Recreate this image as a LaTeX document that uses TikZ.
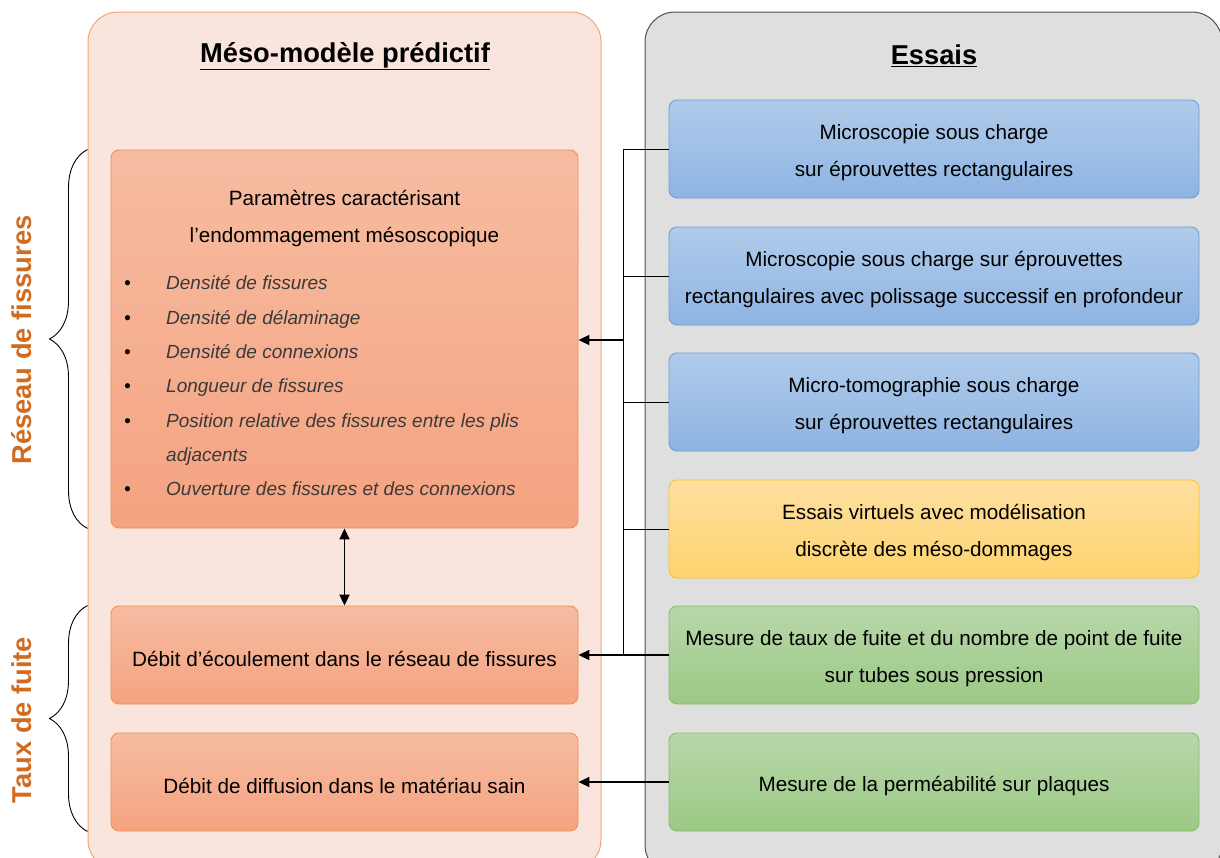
\documentclass[tikz,border=0pt]{standalone}
\usepackage{fontspec}
\setmainfont{Liberation Sans}
\usepackage{xcolor}
\usepackage{tikz}
\usetikzlibrary{arrows,arrows.meta,positioning,decorations.pathreplacing}

\definecolor{fondM}{HTML}{F9E5DD}
\definecolor{bordM}{HTML}{F4A46E}
\definecolor{fondE}{HTML}{DFDFDF}
\definecolor{bordE}{HTML}{505050}
\definecolor{orHaut}{HTML}{F6BCA2}
\definecolor{orBas}{HTML}{F5A380}
\definecolor{orBord}{HTML}{F0904F}
\definecolor{blHaut}{HTML}{B0CBEA}
\definecolor{blBas}{HTML}{8EB4E3}
\definecolor{blBord}{HTML}{6C9FD8}
\definecolor{jaHaut}{HTML}{FEDFA0}
\definecolor{jaBas}{HTML}{FED46F}
\definecolor{jaBord}{HTML}{F8C330}
\definecolor{veHaut}{HTML}{B7D7A9}
\definecolor{veBas}{HTML}{9CC985}
\definecolor{veBord}{HTML}{88BE6C}
\definecolor{etiq}{HTML}{D06B20}
\definecolor{gristxt}{HTML}{3A3A3A}

\begin{document}
\begin{tikzpicture}[x=1pt, y=-1pt,
        line/.style = {draw = black, line width=1.8pt, >={Triangle[length=11pt,width=10pt]}},
        fil/.style = {draw = black, line width=0.9pt},
        panneau/.style = {rounded corners=30pt, line width=1pt, inner sep=0pt},
        titre/.style = {font=\fontsize{27.3}{30}\selectfont\bfseries},
        boite/.style = {rounded corners=8pt, line width=0.9pt, minimum height=98pt,
            align=flush center, inner sep=0pt, font=\fontsize{20.7}{37}\selectfont,
            execute at begin node={\rule{0pt}{23pt}}},
        modele/.style = {boite, minimum width=467pt, text width=467pt, draw=orBord,
            top color=orHaut, bottom color=orBas},
        essai/.style = {boite, minimum width=530pt, text width=530pt, draw=#1Bord,
            top color=#1Haut, bottom color=#1Bas},
        critere/.style = {anchor=base west, inner sep=0pt, text=gristxt,
            font=\fontsize{19}{22}\selectfont\itshape},
        etiquette/.style = {rotate=90, text=etiq,
            font=\fontsize{27.3}{30}\selectfont\bfseries},
        accolade/.style = {draw=black, line width=0.9pt, decorate,
            decoration={brace, amplitude=38pt}}]
    \useasboundingbox (0,0) rectangle (1220,857);

    % les deux panneaux
    \node[panneau, draw=bordM, fill=fondM, minimum width=513pt, minimum height=858pt]
        (pM) at (344.5,441) {};
    \node[panneau, draw=bordE, fill=fondE, minimum width=577pt, minimum height=863pt]
        (pE) at (933.5,443.5) {};
    \node[titre] (tM) at (345,56) {\underline{Méso-modèle prédictif}};
    \node[titre] (tE) at (934,56) {\underline{Essais}};

    % meso-modele
    \node[modele, minimum height=378pt, execute at begin node={}] (m1) at (344.5,339) {};
    \node[align=center, inner sep=0pt, font=\fontsize{20.7}{37}\selectfont]
        (m1t) at (344.5,219) {Paramètres caractérisant\\l’endommagement mésoscopique};
    \foreach \j/\t in {282/Densité de fissures, 317/Densité de délaminage,
            351/Densité de connexions, 385/Longueur de fissures,
            420/Position relative des fissures entre les plis, 454/adjacents,
            488/Ouverture des fissures et des connexions}
        \path node[critere] (crit-\j) at (166,\j+7) {\t};
    \foreach \j in {282,317,351,385,420,488}
        \path node[critere, text=black] (puce-\j) at (124,\j+7) {\textbullet};
    \node[modele] (m2) at (344.5,655) {Débit d’écoulement dans le réseau de fissures};
    \node[modele] (m3) at (344.5,782) {Débit de diffusion dans le matériau sain};

    % essais
    \node[essai=bl] (e1) at (934,149) {Microscopie sous charge\\sur éprouvettes rectangulaires};
    \node[essai=bl] (e2) at (934,276) {Microscopie sous charge sur éprouvettes\\rectangulaires avec polissage successif en profondeur};
    \node[essai=bl] (e3) at (934,402) {Micro-tomographie sous charge\\sur éprouvettes rectangulaires};
    \node[essai=ja] (e4) at (934,529) {Essais virtuels avec modélisation\\discrète des méso-dommages};
    \node[essai=ve] (e5) at (934,655) {Mesure de taux de fuite et du nombre de point de fuite\\sur tubes sous pression};
    \node[essai=ve] (e6) at (934,782) {Mesure de la perméabilité sur plaques};

    % liaisons
    \coordinate (bus) at (623,340);
    \foreach \i in {1,...,4}
        \path[fil] (e\i.west) -- (e\i.west -| bus);
    \path[fil] (e1.west -| bus) -- (e5.west -| bus);
    \path[line,->] (bus) -- (bus -| m1.east);
    \path[line,->] (e5.west) -- (m2.east);
    \path[line,->] (e6.west) -- (m3.east);
    \path[line,<->] (m1.south) -- (m2.north);

    % accolades
    \path[accolade] (m1.south west -| pM.west) -- (m1.north west -| pM.west);
    \path[accolade] (m3.south west -| pM.west) -- (m2.north west -| pM.west);
    \node[etiquette] (lR) at (22,340) {Réseau de fissures};
    \node[etiquette] (lT) at (22,720) {Taux de fuite};
\end{tikzpicture}
\end{document}
